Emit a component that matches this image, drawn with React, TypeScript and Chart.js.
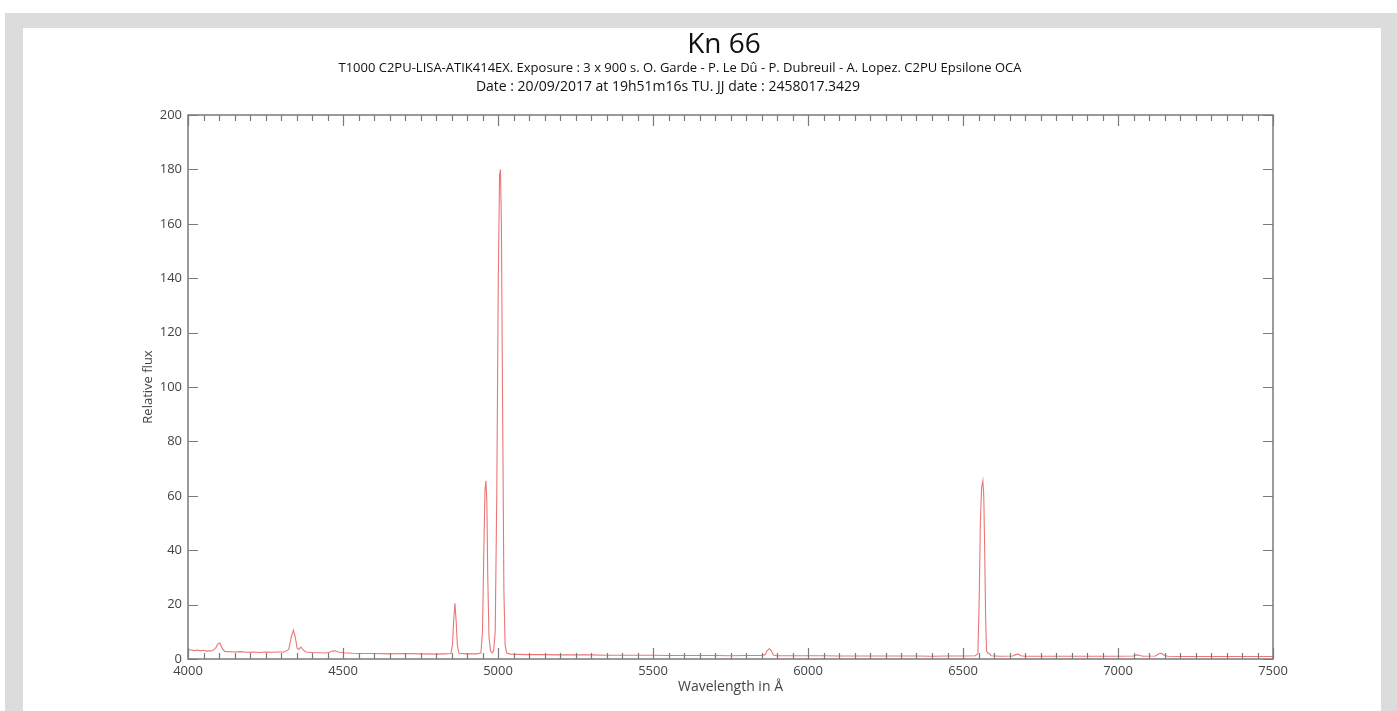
import React, { useEffect, useRef } from "react";
import { Chart, registerables } from "chart.js";

Chart.register(...registerables);

const chartTitle = "Kn 66";
const subtitleLine1 =
  "T1000 C2PU-LISA-ATIK414EX. Exposure : 3 x 900 s. O. Garde - P. Le Dû - P. Dubreuil - A. Lopez. C2PU Epsilone OCA";
const subtitleLine2 = "Date : 20/09/2017 at 19h51m16s TU. JJ date : 2458017.3429";
const xAxisTitle = "Wavelength in Å";
const yAxisTitle = "Relative flux";

const xMin = 4000;
const xMax = 7500;
const xMajorStep = 500;
const xMinorStep = 50;
const yMin = 0;
const yMax = 200;
const yStep = 20;

const wavelengths = [
  4000, 4010, 4020, 4030, 4040, 4050, 4060, 4070, 4080, 4090, 4097, 4103, 4110, 4118, 4130,
  4150, 4170, 4190, 4210, 4230, 4250, 4270, 4290, 4310, 4325, 4333, 4340, 4346, 4352, 4358,
  4364, 4370, 4380, 4400, 4420, 4440, 4455, 4465, 4475, 4485, 4500, 4530, 4560, 4600, 4650,
  4700, 4750, 4800, 4830, 4848, 4853, 4857, 4861, 4865, 4869, 4874, 4900, 4930, 4945, 4950,
  4954, 4958, 4961, 4964, 4967, 4971, 4976, 4981, 4986, 4991, 4996, 5001, 5005, 5008, 5011,
  5015, 5019, 5023, 5028, 5040, 5060, 5100, 5150, 5200, 5250, 5300, 5350, 5400, 5450, 5500,
  5550, 5600, 5650, 5700, 5750, 5800, 5850, 5862, 5868, 5875, 5882, 5888, 5900, 5950, 6000,
  6050, 6100, 6150, 6200, 6250, 6300, 6350, 6400, 6450, 6500, 6540, 6548, 6552, 6556, 6560,
  6564, 6567, 6570, 6573, 6576, 6580, 6585, 6590, 6620, 6660, 6670, 6678, 6686, 6700, 6750,
  6800, 6850, 6900, 6950, 7000, 7050, 7060, 7068, 7080, 7120, 7132, 7140, 7148, 7160, 7200,
  7250, 7300, 7350, 7400, 7450, 7500,
];

const flux = [
  3.2, 3.4, 3.1, 3.3, 3.0, 3.2, 2.9, 3.0, 3.1, 4.2, 5.6, 5.8, 4.0, 2.8, 2.7,
  2.6, 2.7, 2.5, 2.6, 2.4, 2.6, 2.5, 2.6, 2.6, 3.5, 8.0, 10.6, 8.0, 4.0, 3.6,
  4.4, 3.5, 2.6, 2.4, 2.3, 2.2, 2.4, 2.9, 3.0, 2.6, 2.3, 2.1, 2.0, 2.0, 1.9,
  2.0, 1.9, 1.8, 1.9, 2.0, 5.0, 14.0, 20.5, 14.0, 5.0, 2.1, 1.9, 1.9, 2.2, 10.0,
  38.0, 62.0, 65.5, 58.0, 30.0, 8.0, 3.0, 2.2, 3.0, 10.0, 60.0, 140.0, 178.0, 180.0, 160.0,
  90.0, 25.0, 5.0, 2.2, 1.8, 1.7, 1.6, 1.6, 1.5, 1.5, 1.5, 1.4, 1.4, 1.4, 1.4,
  1.3, 1.3, 1.3, 1.3, 1.2, 1.3, 1.3, 1.6, 3.0, 3.8, 3.0, 1.5, 1.2, 1.2, 1.2,
  1.2, 1.1, 1.1, 1.1, 1.1, 1.1, 1.1, 1.0, 1.1, 1.1, 1.2, 2.0, 20.0, 50.0, 63.0,
  65.5, 60.0, 40.0, 15.0, 3.0, 2.2, 2.0, 1.2, 1.0, 1.1, 1.6, 1.8, 1.2, 1.0, 1.0,
  1.0, 1.0, 1.0, 1.0, 1.0, 1.1, 1.5, 1.4, 1.0, 1.1, 1.9, 2.1, 1.5, 1.0, 0.9,
  0.9, 0.9, 0.9, 0.9, 0.9, 0.9,
];

const LINE_COLOR = "rgb(234, 118, 118)";
const AXIS_COLOR = "#7a7a7a";
const LABEL_COLOR = "#444444";
const FONT = "'Open Sans', 'DejaVu Sans', sans-serif";

const framePlugin = {
  id: "framePlugin",
  afterDraw(chart: any) {
    const { ctx, chartArea } = chart;
    const xs = chart.scales.x;
    const ys = chart.scales.y;
    const { left, right, top, bottom } = chartArea;
    ctx.save();
    ctx.strokeStyle = AXIS_COLOR;
    ctx.lineWidth = 1.5;
    ctx.strokeRect(left, top, right - left, bottom - top);
    ctx.lineWidth = 1.2;
    ctx.beginPath();
    for (let v = xMin; v <= xMax; v += xMinorStep) {
      const px = Math.round(xs.getPixelForValue(v)) + 0.5;
      const len = v % xMajorStep === 0 ? 11 : 6;
      ctx.moveTo(px, bottom);
      ctx.lineTo(px, bottom - len);
      ctx.moveTo(px, top);
      ctx.lineTo(px, top + len);
    }
    for (let v = yMin; v <= yMax; v += yStep) {
      const py = Math.round(ys.getPixelForValue(v)) + 0.5;
      ctx.moveTo(left, py);
      ctx.lineTo(left + 10, py);
      ctx.moveTo(right, py);
      ctx.lineTo(right - 10, py);
    }
    ctx.stroke();

    // titles
    ctx.fillStyle = "#111111";
    ctx.textBaseline = "middle";
    ctx.textAlign = "center";
    ctx.font = `28px ${FONT}`;
    ctx.fillText(chartTitle, 701, 17);
    ctx.font = `13px ${FONT}`;
    ctx.fillText(subtitleLine1, 657, 40, 690);
    ctx.font = `14px ${FONT}`;
    ctx.fillText(subtitleLine2, 645, 59);
    ctx.restore();
  },
};

export default function App() {
  const canvasRef = useRef<HTMLCanvasElement | null>(null);

  useEffect(() => {
    const canvas = canvasRef.current;
    if (!canvas) return;
    const points = wavelengths.map((w, i) => ({ x: w, y: flux[i] }));
    const chart = new Chart(canvas, {
      type: "line",
      data: {
        datasets: [
          {
            data: points,
            borderColor: LINE_COLOR,
            borderWidth: 1.1,
            pointRadius: 0,
            tension: 0,
            fill: false,
          },
        ],
      },
      options: {
        animation: false,
        responsive: false,
        maintainAspectRatio: false,
        layout: { padding: { left: 0, top: 87, right: 108, bottom: 0 } },
        plugins: {
          legend: { display: false },
          tooltip: { enabled: false },
          title: { display: false },
        },
        scales: {
          x: {
            type: "linear",
            min: xMin,
            max: xMax,
            grid: { display: false, drawTicks: false },
            border: { display: false },
            ticks: {
              stepSize: xMajorStep,
              color: LABEL_COLOR,
              font: { family: FONT, size: 13 },
              padding: 4,
              maxRotation: 0,
              autoSkip: false,
              callback: (v: any) => String(v),
            },
            title: {
              display: true,
              text: xAxisTitle,
              color: LABEL_COLOR,
              font: { family: FONT, size: 14 },
              padding: { top: 0, bottom: 15.6 },
            },
            afterFit: (s: any) => {
              s.height = 52;
            },
          },
          y: {
            type: "linear",
            min: yMin,
            max: yMax,
            grid: { display: false, drawTicks: false },
            border: { display: false },
            ticks: {
              stepSize: yStep,
              color: LABEL_COLOR,
              font: { family: FONT, size: 13 },
              padding: 6,
              callback: (v: any) => String(v),
            },
            title: {
              display: true,
              text: yAxisTitle,
              color: LABEL_COLOR,
              font: { family: FONT, size: 13 },
              padding: { top: 117, bottom: 0 },
            },
            afterFit: (s: any) => {
              s.width = 165;
            },
          },
        },
      },
      plugins: [framePlugin],
    });
    return () => chart.destroy();
  }, []);

  return (
    <div style={{ position: "fixed", left: 0, top: 0, width: 1397, height: 711, background: "#ffffff" }}>
      <div style={{ position: "absolute", left: 5, top: 13, right: 0, bottom: 0, background: "#dcdcdc" }} />
      <div style={{ position: "absolute", left: 23, top: 28, width: 1358, height: 683, background: "#ffffff" }}>
        <canvas ref={canvasRef} width={1358} height={683} style={{ display: "block" }} />
      </div>
    </div>
  );
}
